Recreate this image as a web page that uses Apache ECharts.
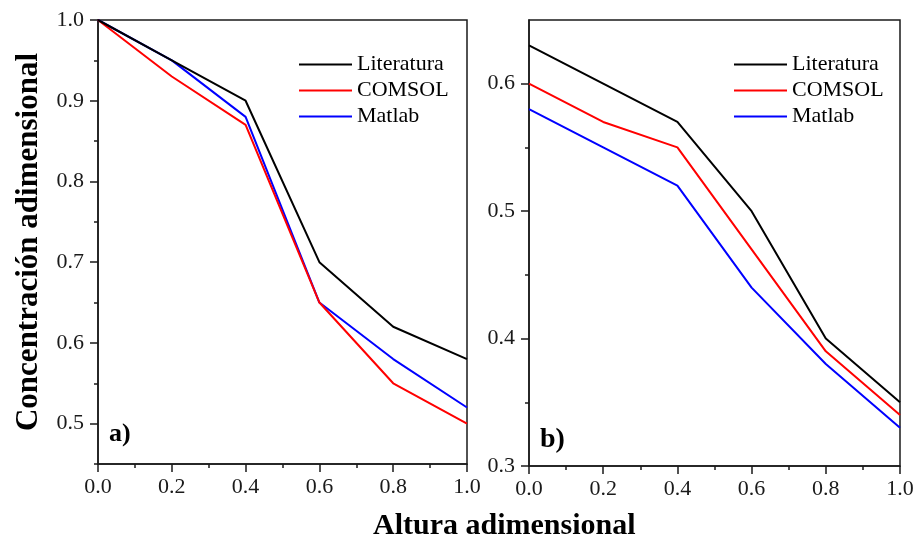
<!DOCTYPE html>
<html>
<head>
<meta charset="utf-8">
<title>Concentración adimensional</title>
<script src="https://cdn.jsdelivr.net/npm/echarts@6/dist/echarts.min.js"></script>
<style>
  html, body { margin: 0; padding: 0; background: #fff; }
  #chart { width: 917px; height: 543px; }
</style>
</head>
<body>
<div id="chart"></div>
<script>
// altura adimensional (eje x), igual en los dos paneles
var altura = [0.0, 0.2, 0.4, 0.6, 0.8, 1.0];

// panel a)
var literaturaA = [1.0, 0.95, 0.90, 0.70, 0.62, 0.58];
var comsolA = [1.0, 0.93, 0.87, 0.65, 0.55, 0.50];
var matlabA = [1.0, 0.95, 0.88, 0.65, 0.58, 0.52];

// panel b)
var literaturaB = [0.63, 0.60, 0.57, 0.50, 0.40, 0.35];
var comsolB = [0.60, 0.57, 0.55, 0.47, 0.39, 0.34];
var matlabB = [0.58, 0.55, 0.52, 0.44, 0.38, 0.33];

var nombres = ["Literatura", "COMSOL", "Matlab"];
var colores = ["#000000", "#ff0000", "#0000ff"];

// marcas de los ejes
var yTicksA = [0.5, 0.6, 0.7, 0.8, 0.9, 1.0];
var yMinorA = [0.45, 0.55, 0.65, 0.75, 0.85, 0.95];
var yTicksB = [0.3, 0.4, 0.5, 0.6];
var yMinorB = [0.35, 0.45, 0.55];

var fuente = "Liberation Serif, Times New Roman, serif";
var tinta = "#1a1a1a";

function pares(ys) {
  return altura.map(function (x, i) {
    return [x, ys[i]];
  });
}

function ejeX(grid) {
  return {
    type: "value",
    gridIndex: grid,
    min: 0,
    max: 1,
    interval: 0.2,
    axisLine: { lineStyle: { color: tinta, width: 1.5 } },
    axisTick: { length: 8, lineStyle: { color: tinta, width: 1.5 } },
    minorTick: { show: true, splitNumber: 2, length: 4, lineStyle: { color: tinta, width: 1.5 } },
    splitLine: { show: false },
    axisLabel: {
      margin: 12,
      color: tinta,
      fontFamily: fuente,
      fontSize: 22,
      formatter: function (v) { return v.toFixed(1); }
    }
  };
}

function ejeY(grid, min, max, ticks, margen) {
  return {
    type: "value",
    gridIndex: grid,
    position: "left",
    min: min,
    max: max,
    axisLine: { show: true, lineStyle: { color: tinta, width: 1.5 } },
    axisTick: { show: true, length: 8, customValues: ticks, lineStyle: { color: tinta, width: 1.5 } },
    splitLine: { show: false },
    axisLabel: {
      margin: margen,
      customValues: ticks,
      color: tinta,
      fontFamily: fuente,
      fontSize: 22,
      formatter: function (v) { return v.toFixed(1); }
    }
  };
}

// eje auxiliar solo para las marcas menores
function ejeMenor(grid, min, max, ticks) {
  return {
    type: "value",
    gridIndex: grid,
    position: "left",
    offset: 0,
    min: min,
    max: max,
    axisLine: { show: false, onZero: false },
    axisTick: { show: true, length: 4, customValues: ticks, lineStyle: { color: tinta, width: 1.5 } },
    axisLabel: { show: false },
    splitLine: { show: false }
  };
}

function series(datos, grid, yIndex) {
  return datos.map(function (ys, i) {
    return {
      name: nombres[i],
      type: "line",
      xAxisIndex: grid,
      yAxisIndex: yIndex,
      data: pares(ys),
      symbol: "none",
      color: colores[i],
      lineStyle: { width: 2 },
      z: 3 - i
    };
  });
}

function leyenda(left) {
  return {
    data: nombres,
    orient: "vertical",
    left: left,
    top: 48,
    icon: "rect",
    itemWidth: 53,
    itemHeight: 2,
    itemGap: 3,
    selectedMode: false,
    textStyle: { color: "#000", fontFamily: fuente, fontSize: 22, lineHeight: 23 }
  };
}

var chart = echarts.init(document.getElementById("chart"));

chart.setOption({
  backgroundColor: "#fff",
  animation: false,
  title: [
    {
      text: "a)",
      left: 104,
      top: 416,
      textStyle: { fontFamily: fuente, fontWeight: "bold", fontSize: 26, color: "#000" }
    },
    {
      text: "b)",
      left: 535,
      top: 421,
      textStyle: { fontFamily: fuente, fontWeight: "bold", fontSize: 28, color: "#000" }
    },
    {
      text: "Altura adimensional",
      left: 368,
      top: 506,
      textStyle: { fontFamily: fuente, fontWeight: "bold", fontSize: 30, color: "#000" }
    }
  ],
  legend: [leyenda(294), leyenda(729)],
  grid: [
    { left: 98, top: 20, width: 369, height: 444, show: true, borderColor: tinta, borderWidth: 1.5 },
    { left: 529, top: 20, width: 371, height: 446, show: true, borderColor: tinta, borderWidth: 1.5 }
  ],
  xAxis: [ejeX(0), ejeX(1)],
  yAxis: [
    Object.assign(ejeY(0, 0.45, 1.0, yTicksA, 14), {
      name: "Concentración adimensional",
      nameLocation: "middle",
      nameGap: 54,
      nameTextStyle: { fontFamily: fuente, fontWeight: "bold", fontSize: 31, color: "#000" }
    }),
    ejeY(1, 0.3, 0.65, yTicksB, 14),
    ejeMenor(0, 0.45, 1.0, yMinorA),
    ejeMenor(1, 0.3, 0.65, yMinorB)
  ],
  series: series([literaturaA, comsolA, matlabA], 0, 0)
    .concat(series([literaturaB, comsolB, matlabB], 1, 1))
});
</script>
</body>
</html>
